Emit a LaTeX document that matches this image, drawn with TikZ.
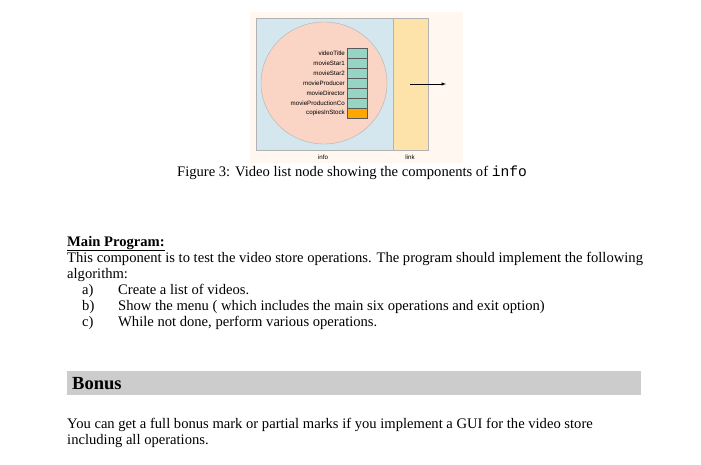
\documentclass[tikz,border=0pt]{standalone}
\usepackage{fontspec}
\setmainfont{Liberation Serif}
\newfontfamily\figsans{Liberation Sans}
\setmonofont{Liberation Mono}
\definecolor{infoblue}{RGB}{212,230,238}
\definecolor{celltea}{RGB}{150,212,196}
\definecolor{linkyel}{RGB}{253,226,170}
\definecolor{circpink}{RGB}{250,212,196}
\begin{document}
\begin{tikzpicture}[x=1pt,y=-1pt,
  body/.style={anchor=base west,inner sep=0pt,font=\fontsize{14.6}{16}\selectfont},
  tiny/.style={inner sep=0pt,font=\figsans\fontsize{6.2}{7}\selectfont},
  cell/.style={draw=gray!70!black,line width=0.4pt,fill=celltea}]
\useasboundingbox (0,0) rectangle (701,465);
\fill[white] (0,0) rectangle (701,465);
% figure
\fill[orange!6] (250,12) rectangle (463,163);
\draw[gray!60,fill=infoblue] (256,18) rectangle (393,150);
\draw[gray!60,fill=linkyel] (393,18) rectangle (428,150);
\draw[gray!60,fill=circpink] (324,83) ellipse (63 and 61);
\foreach \i/\t in {0/videoTitle,1/movieStar1,2/movieStar2,3/movieProducer,4/movieDirector,5/movieProductionCo}{
  \draw[cell] (347,48+10*\i) rectangle (367,58+10*\i);
  \node[tiny,anchor=east] (f\i) at (345,53+10*\i) {\t};
}
\draw[cell,fill=orange!70!yellow] (347,108) rectangle (367,118);
\node[tiny,anchor=east] (f6) at (345,113) {copiesInStock};
\coordinate (a1) at (410,84); \coordinate (a2) at (446,84);
\draw[-latex,line width=0.5pt] (a1) -- (a2);
\node[tiny] (info) at (323,157) {info};
\node[tiny] (link) at (410,157) {link};
\node[inner sep=0pt,anchor=base,font=\fontsize{14.6}{16}\selectfont] (cap) at (352,177) {Figure 3: Video list node showing the components of \texttt{info}};
% main
\node[body,font=\bfseries\fontsize{14.6}{16}\selectfont] (mp) at (67,246) {\underline{Main Program:}};
\node[body] (l1) at (67,262) {This component is to test the video store operations. The program should implement the following};
\node[body] (l2) at (67,278) {algorithm:};
\node[body] (la) at (82,294) {a)};
\node[body] (lat) at (118,294) {Create a list of videos.};
\node[body] (lb) at (82,310) {b)};
\node[body] (lbt) at (118,310) {Show the menu ( which includes the main six operations and exit option)};
\node[body] (lc) at (82,326) {c)};
\node[body] (lct) at (118,326) {While not done, perform various operations.};
\fill[gray!40] (67,371) rectangle (641,395);
\node[body,font=\bfseries\fontsize{18.5}{20}\selectfont] (bonus) at (72,389) {Bonus};
\node[body] (b1) at (67,428) {You can get a full bonus mark or partial marks if you implement a GUI for the video store};
\node[body] (b2) at (67,444) {including all operations.};
\end{tikzpicture}
\end{document}
